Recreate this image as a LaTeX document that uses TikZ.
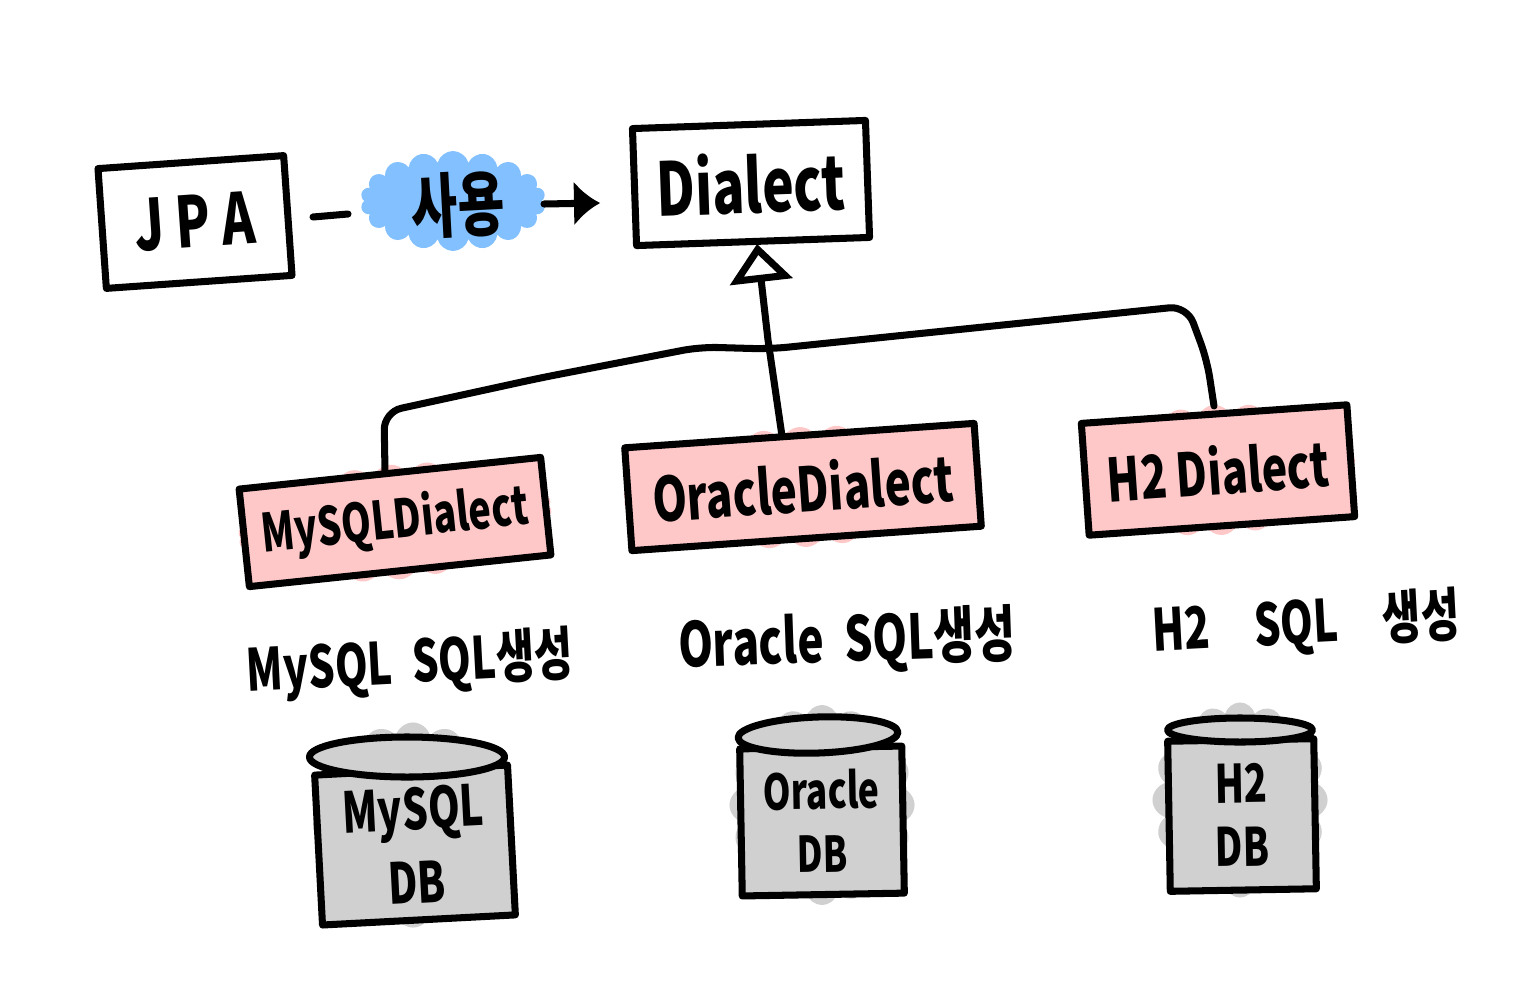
\documentclass[tikz,border=0pt]{standalone}
\usepackage{fontspec}
\usepackage{tikz}
\usetikzlibrary{arrows.meta,shapes.geometric,shapes.symbols}
\setmainfont[FakeStretch=0.72]{Noto Sans CJK KR}
\definecolor{puffblue}{HTML}{82C0FF}
\definecolor{puffpink}{HTML}{FFC8C8}
\definecolor{puffgrey}{HTML}{D0D0D0}
\tikzset{
  wire/.style={line width=2pt,line join=round,line cap=round},
  sketchbox/.style={draw,wire,inner sep=0pt},
  pinkbox/.style={sketchbox,fill=puffpink},
  puff/.style={cloud,cloud puffs=#1,cloud ignores aspect,inner sep=0pt},
  dbbody/.style={sketchbox,fill=puffgrey,align=center},
  dblid/.style={ellipse,draw,wire,fill=puffgrey,inner sep=0pt},
  gen/.style={font=\fontsize{16.5}{18}\selectfont\bfseries}
}
\begin{document}
\begin{tikzpicture}[x=0.01cm,y=-0.01cm]
\useasboundingbox (0,0) rectangle (1537,1000);
\node [puff=18,fill=puffblue,minimum width=1.85cm,minimum height=1.0cm] (usecloud) at (453,201) {};
\node [puff=26,fill=puffpink,minimum width=3.15cm,minimum height=1.15cm,rotate=6] (mysqlpuff) at (395,522) {};
\node [puff=30,fill=puffpink,minimum width=3.6cm,minimum height=1.2cm,rotate=4] (oraclepuff) at (803,487) {};
\node [puff=24,fill=puffpink,minimum width=2.75cm,minimum height=1.3cm,rotate=4] (h2puff) at (1218,470) {};
\node [puff=16,fill=puffgrey,minimum width=2.0cm,minimum height=2.05cm] (mysqlgrey) at (413,825) {};
\node [puff=16,fill=puffgrey,minimum width=1.85cm,minimum height=2.0cm] (oraclegrey) at (822,805) {};
\node [puff=16,fill=puffgrey,minimum width=1.75cm,minimum height=1.95cm] (h2grey) at (1240,800) {};

\node [sketchbox,minimum width=1.86cm,minimum height=1.2cm,rotate=4,font=\fontsize{20}{24}\selectfont\bfseries] (jpa) at (195,222) {J\,P\,A};
\node [sketchbox,minimum width=2.33cm,minimum height=1.17cm,rotate=2,font=\fontsize{21}{24}\selectfont\bfseries] (dialect) at (751,183) {Dialect};
\node [pinkbox,minimum width=3.03cm,minimum height=0.98cm,rotate=6,font=\fontsize{15}{20}\selectfont\bfseries] (mysql) at (395,522) {MySQLDialect};
\node [pinkbox,minimum width=3.5cm,minimum height=1.03cm,rotate=4,font=\fontsize{17.4}{24}\selectfont\bfseries] (oracle) at (803,487) {OracleDialect};
\node [pinkbox,minimum width=2.66cm,minimum height=1.12cm,rotate=4,font=\fontsize{17}{24}\selectfont\bfseries] (h2) at (1218,470) {H2 Dialect};
\node [font=\fontsize{20}{24}\selectfont\bfseries,rotate=3] (uselabel) at (458,205) {사용};

\node [gen,rotate=3] (mysqlgen) at (410,665) {MySQL\, SQL생성};
\node [gen,font=\fontsize{17.5}{18}\selectfont\bfseries,rotate=2] (oraclegen) at (847,642) {Oracle\, SQL생성};
\node [gen,rotate=3] (h2gen) at (1306,625) {H2\hspace{0.6em} SQL\hspace{0.6em} 생성};

\node [dbbody,minimum width=1.93cm,minimum height=1.5cm,rotate=3,font=\fontsize{16}{21}\selectfont\bfseries] (mysqldb) at (415,845) {MySQL\\DB};
\node [dblid,minimum width=1.95cm,minimum height=0.4cm] (mysqllid) at (407,757) {};
\node [dbbody,minimum width=1.62cm,minimum height=1.47cm,rotate=1,font=\fontsize{14}{18}\selectfont\bfseries] (oracledb) at (822,821) {Oracle\\DB};
\node [dblid,minimum width=1.6cm,minimum height=0.36cm,rotate=2] (oraclelid) at (818,735) {};
\node [dbbody,minimum width=1.46cm,minimum height=1.5cm,rotate=1,font=\fontsize{15}{18}\selectfont\bfseries] (h2db) at (1242,815) {H2\\DB};
\node [dblid,minimum width=1.45cm,minimum height=0.24cm] (h2lid) at (1240,730) {};

\coordinate (dashfrom) at (313,217);
\coordinate (dashto) at (348,214);
\coordinate (usefrom) at (544,204);
\coordinate (usehead) at (600,203);
\coordinate (mysqltop) at (385,472);
\coordinate (oracletop) at (782,436);
\coordinate (dialectfoot) at (757,244);
\coordinate (h2top) at (1214,406);

\draw [wire] (dashfrom) -- (dashto);
\draw [wire,-{Latex[length=0.26cm,width=0.45cm]}] (usefrom) -- (usehead);
\draw [wire,rounded corners=5pt] (mysqltop) -- (384,412) -- (540,378) -- (700,347) -- (770,349) -- (1187,306) -- (1207,360) -- (h2top);
\draw [wire,-{Triangle[open,fill=white,length=0.38cm,width=0.62cm]}] (oracletop) -- (768,340) -- (dialectfoot);
\end{tikzpicture}
\end{document}
